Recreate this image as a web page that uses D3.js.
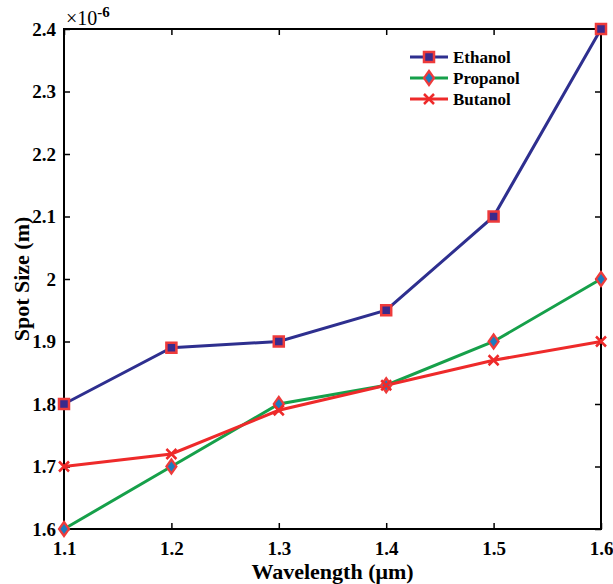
<!DOCTYPE html>
<html>
<head>
<meta charset="utf-8">
<script src="https://cdn.jsdelivr.net/npm/d3@7"></script>
<style>
  html, body { margin: 0; padding: 0; background: #fff; }
  svg text { font-family: "Liberation Serif", "Times New Roman", serif; font-weight: bold; }
</style>
</head>
<body>
<svg id="chart" width="613" height="584"></svg>
<script>
// Wavelengths (µm) and spot sizes (×10^-6 m)
const wavelengths = [1.1, 1.2, 1.3, 1.4, 1.5, 1.6];
const ethanol  = [1.80, 1.89, 1.90, 1.95, 2.10, 2.40];
const propanol = [1.60, 1.70, 1.80, 1.83, 1.90, 2.00];
const butanol  = [1.70, 1.72, 1.79, 1.83, 1.87, 1.90];
const xTicks = [1.1, 1.2, 1.3, 1.4, 1.5, 1.6];
const yTicks = [1.6, 1.7, 1.8, 1.9, 2.0, 2.1, 2.2, 2.3, 2.4];

const series = [
  { name: "Ethanol",  values: ethanol,  line: "#2e2f8f", marker: "square",  fill: "#3a2a8c", edge: "#ee3b3b" },
  { name: "Propanol", values: propanol, line: "#16a04a", marker: "diamond", fill: "#1b7cc0", edge: "#ee3b3b" },
  { name: "Butanol",  values: butanol,  line: "#ee2a2a", marker: "cross",   fill: "none",    edge: "#ee2a2a" }
];

const svg = d3.select("#chart");
const m = { left: 64, right: 601, top: 29, bottom: 529 };

const x = d3.scaleLinear().domain([1.1, 1.6]).range([m.left, m.right]);
const y = d3.scaleLinear().domain([1.6, 2.4]).range([m.bottom, m.top]);

const fmtX = d => d3.format(".1f")(d);
const fmtY = d => (Math.abs(d - 2) < 1e-9 ? "2" : d3.format(".1f")(d));

// Axes with inward ticks on all four sides
const tickLen = 6;
svg.append("g").attr("transform", `translate(0,${m.bottom})`)
  .call(d3.axisBottom(x).tickValues(xTicks).tickFormat(fmtX).tickSizeInner(-tickLen).tickSizeOuter(0).tickPadding(13))
  .call(g => g.select(".domain").remove());
svg.append("g").attr("transform", `translate(0,${m.top})`)
  .call(d3.axisTop(x).tickValues(xTicks).tickFormat("").tickSizeInner(-tickLen).tickSizeOuter(0))
  .call(g => g.select(".domain").remove());
svg.append("g").attr("transform", `translate(${m.left},0)`)
  .call(d3.axisLeft(y).tickValues(yTicks).tickFormat(fmtY).tickSizeInner(-tickLen).tickSizeOuter(0).tickPadding(8))
  .call(g => g.select(".domain").remove());
svg.append("g").attr("transform", `translate(${m.right},0)`)
  .call(d3.axisRight(y).tickValues(yTicks).tickFormat("").tickSizeInner(-tickLen).tickSizeOuter(0))
  .call(g => g.select(".domain").remove());

svg.selectAll(".tick line").attr("stroke", "#000").attr("stroke-width", 1.5);
svg.selectAll(".tick text").attr("fill", "#000").style("font-size", "19px");

// Frame
svg.append("rect")
  .attr("x", m.left).attr("y", m.top)
  .attr("width", m.right - m.left).attr("height", m.bottom - m.top)
  .attr("fill", "none").attr("stroke", "#000").attr("stroke-width", 2);

// Exponent label
const expo = svg.append("text").attr("x", 66).attr("y", 25).style("font-size", "20px").style("font-weight", "normal");
expo.append("tspan").text("×10");
expo.append("tspan").attr("dy", -8).style("font-size", "15px").style("font-weight", "bold").text("-6");

// Axis titles
svg.append("text")
  .attr("x", (m.left + m.right) / 2).attr("y", 579)
  .attr("text-anchor", "middle").style("font-size", "22px")
  .text("Wavelength (μm)");
svg.append("text")
  .attr("transform", `translate(29,${(m.top + m.bottom) / 2}) rotate(-90)`)
  .attr("text-anchor", "middle").style("font-size", "22px")
  .text("Spot Size (m)");

// Marker drawing
function drawMarker(g, s, cx, cy) {
  if (s.marker === "square") {
    g.append("rect").attr("x", cx - 5).attr("y", cy - 5).attr("width", 10).attr("height", 10)
      .attr("fill", s.fill).attr("stroke", s.edge).attr("stroke-width", 2.5);
  } else if (s.marker === "diamond") {
    const r = 7;
    g.append("path").attr("d", `M${cx},${cy - r}L${cx + r - 2},${cy}L${cx},${cy + r}L${cx - r + 2},${cy}Z`)
      .attr("fill", s.fill).attr("stroke", s.edge).attr("stroke-width", 2.2);
  } else {
    const r = 5;
    g.append("path").attr("d", `M${cx - r},${cy - r}L${cx + r},${cy + r}M${cx - r},${cy + r}L${cx + r},${cy - r}`)
      .attr("stroke", s.edge).attr("stroke-width", 2.5).attr("fill", "none");
  }
}

const line = d3.line().x((d, i) => x(wavelengths[i])).y(d => y(d));

series.forEach(s => {
  svg.append("path").datum(s.values)
    .attr("d", line).attr("fill", "none")
    .attr("stroke", s.line).attr("stroke-width", 3);
});
series.forEach(s => {
  const g = svg.append("g");
  s.values.forEach((v, i) => drawMarker(g, s, x(wavelengths[i]), y(v)));
});

// Legend
const lg = svg.append("g");
series.forEach((s, i) => {
  const ly = 57 + i * 21;
  lg.append("line").attr("x1", 410).attr("x2", 448).attr("y1", ly).attr("y2", ly)
    .attr("stroke", s.line).attr("stroke-width", 3);
  drawMarker(lg, s, 429, ly);
  lg.append("text").attr("x", 453).attr("y", ly + 6).style("font-size", "17px").attr("fill", "#000").text(s.name);
});
</script>
</body>
</html>
